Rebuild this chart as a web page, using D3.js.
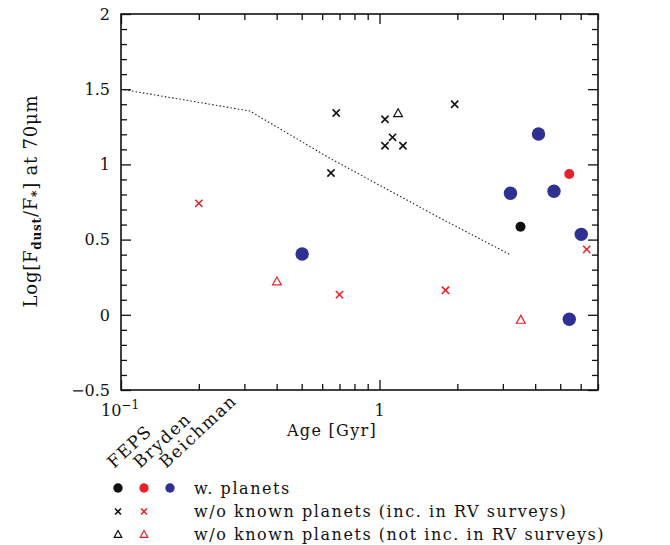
<!DOCTYPE html>
<html>
<head>
<meta charset="utf-8">
<script src="https://cdn.jsdelivr.net/npm/d3@7"></script>
<style>
  body { margin: 0; background: #fff; }
  svg { display: block; }
</style>
</head>
<body>
<div id="chart"></div>
<script>

// ---- data (age in Gyr, log flux ratio) ----

// FEPS
var fepsPlanetAge = [3.51];
var fepsPlanetF   = [0.586];
var fepsRvAge = [0.68, 0.649, 1.05, 1.05, 1.123, 1.232, 1.953];
var fepsRvF   = [1.342, 0.943, 1.30, 1.124, 1.18, 1.124, 1.40];
var fepsNoRvAge = [1.18];
var fepsNoRvF   = [1.344];

// Bryden
var brydenPlanetAge = [5.42];
var brydenPlanetF   = [0.936];
var brydenRvAge = [0.2, 0.70, 1.80, 6.33];
var brydenRvF   = [0.741, 0.134, 0.163, 0.435];
var brydenNoRvAge = [0.401, 3.52];
var brydenNoRvF   = [0.225, -0.03];

// Beichman
var beichmanPlanetAge = [0.502, 4.12, 3.21, 4.73, 6.03, 5.42];
var beichmanPlanetF   = [0.404, 1.202, 0.808, 0.821, 0.535, -0.03];

// dotted curve
var curveAge = [0.1, 0.315, 0.644, 1.72, 3.2];
var curveF   = [1.5, 1.355, 1.04, 0.642, 0.40];

// axes
var xDomain = [0.1, 7];
var yDomain = [-0.5, 2];
var yMajorTicks = [-0.5, 0, 0.5, 1, 1.5, 2];
var xMajorTicks = [0.1, 1];

var colBlack = "#111111", colRed = "#e8222b", colBlue = "#2e3192";

var surveys = ["FEPS", "Bryden", "Beichman"];
var legendColors = [colBlack, colRed, colBlue];
var legendRows = [
    "w. planets",
    "w/o known planets (inc. in RV surveys)",
    "w/o known planets (not inc. in RV surveys)"
];


var margin = {top: 14, right: 72, bottom: 155, left: 121};
var width = 670 - margin.left - margin.right;
var height = 545 - margin.top - margin.bottom;

var svg = d3.select("#chart").append("svg")
    .attr("width", 670)
    .attr("height", 545);

var g = svg.append("g")
    .attr("transform", "translate(" + margin.left + "," + margin.top + ")");

var x = d3.scaleLog().domain(xDomain).range([0, width]);
var y = d3.scaleLinear().domain(yDomain).range([height, 0]);

// minor ticks
var xMinor = [];
[0.1, 1].forEach(function(dec) {
    for (var k = 2; k <= 9; k++) {
        var v = k * dec;
        if (v <= xDomain[1] + 1e-9) xMinor.push(v);
    }
});
var yMinor = d3.range(-5, 21).map(function(d) { return d / 10; })
    .filter(function(v) { return yMajorTicks.indexOf(v) < 0; });

var major = 10, minor = 6;

function tickAxis(axisFn, scale, vals, len, tr) {
    var a = g.append("g")
        .attr("class", "axis")
        .attr("transform", tr)
        .call(axisFn(scale).tickValues(vals).tickSize(-len).tickFormat(""));
    a.select(".domain").remove();
    a.selectAll("line").attr("stroke", "#111").attr("stroke-width", 1.3);
}

tickAxis(d3.axisBottom, x, xMajorTicks, major, "translate(0," + height + ")");
tickAxis(d3.axisBottom, x, xMinor, minor, "translate(0," + height + ")");
tickAxis(d3.axisTop, x, xMajorTicks, major, "translate(0,0)");
tickAxis(d3.axisTop, x, xMinor, minor, "translate(0,0)");
tickAxis(d3.axisLeft, y, yMajorTicks, major, "translate(0,0)");
tickAxis(d3.axisLeft, y, yMinor, minor, "translate(0,0)");
tickAxis(d3.axisRight, y, yMajorTicks, major, "translate(" + width + ",0)");
tickAxis(d3.axisRight, y, yMinor, minor, "translate(" + width + ",0)");

g.append("rect")
    .attr("width", width)
    .attr("height", height)
    .attr("fill", "none")
    .attr("stroke", "#111")
    .attr("stroke-width", 1.6);

// tick labels
var font = "DejaVu Serif";
g.selectAll(".ylab")
    .data(yMajorTicks)
    .enter().append("text")
    .attr("class", "ylab")
    .attr("x", -11)
    .attr("y", function(d) { return y(d); })
    .attr("dy", "0.36em")
    .attr("text-anchor", "end")
    .style("font-family", font)
    .style("font-size", "16px")
    .attr("fill", "#111")
    .text(function(d) { return d < 0 ? "\u2212" + Math.abs(d) : d; });

var tenLab = g.append("text")
    .attr("x", x(0.1) - 20)
    .attr("y", height + 26)
    .style("font-family", font)
    .style("font-size", "16px")
    .attr("fill", "#111");
tenLab.append("tspan").text("10");
tenLab.append("tspan").attr("dy", -7).style("font-size", "12px").text("\u22121");

g.append("text")
    .attr("x", x(1))
    .attr("y", height + 26)
    .attr("text-anchor", "middle")
    .style("font-family", font)
    .style("font-size", "16px")
    .attr("fill", "#111")
    .text("1");

// axis titles
g.append("text")
    .attr("x", 211)
    .attr("y", height + 46)
    .attr("text-anchor", "middle")
    .style("font-family", font)
    .style("font-size", "16px")
    .style("letter-spacing", "1.3px")
    .attr("fill", "#111")
    .text("Age [Gyr]");

var yt = svg.append("text")
    .attr("transform", "translate(37,201) rotate(-90)")
    .attr("text-anchor", "middle")
    .style("font-family", font)
    .style("font-size", "18px")
    .style("letter-spacing", "0.8px")
    .attr("fill", "#111");
yt.append("tspan").text("Log[F");
yt.append("tspan").attr("dy", 4).style("font-size", "12px").style("font-weight", "bold").text("dust");
yt.append("tspan").attr("dy", -4).text("/F");
yt.append("tspan").attr("dy", 4).style("font-size", "12px").style("font-weight", "bold").text("*");
yt.append("tspan").attr("dy", -4).text("] at 70\u03bcm");

// dotted model curve
var line = d3.line()
    .x(function(d) { return x(d[0]); })
    .y(function(d) { return y(d[1]); });

g.append("path")
    .datum(d3.zip(curveAge, curveF))
    .attr("d", line)
    .attr("fill", "none")
    .attr("stroke", "#222")
    .attr("stroke-width", 1.1)
    .attr("stroke-dasharray", "1.5,2.2");

// marker shapes
function drawMarker(sel, shape, color, s) {
    if (shape === "circle") {
        sel.append("circle").attr("r", s).attr("fill", color);
    } else if (shape === "cross") {
        sel.append("path")
            .attr("d", "M" + (-s) + "," + (-s) + "L" + s + "," + s + "M" + (-s) + "," + s + "L" + s + "," + (-s))
            .attr("stroke", color).attr("stroke-width", 1.6).attr("fill", "none");
    } else {
        var h = s * 0.9;
        sel.append("path")
            .attr("d", "M0," + (-h) + "L" + s + "," + h + "L" + (-s) + "," + h + "Z")
            .attr("stroke", color).attr("stroke-width", 1.2).attr("fill", "none");
    }
}

function plotSet(ages, vals, shape, color, s) {
    var pts = g.append("g").selectAll("g")
        .data(d3.zip(ages, vals))
        .enter().append("g")
        .attr("transform", function(d) { return "translate(" + x(d[0]) + "," + y(d[1]) + ")"; });
    pts.each(function() { drawMarker(d3.select(this), shape, color, s); });
}

plotSet(fepsRvAge, fepsRvF, "cross", colBlack, 3.6);
plotSet(fepsNoRvAge, fepsNoRvF, "tri", colBlack, 4.4);
plotSet(brydenRvAge, brydenRvF, "cross", colRed, 3.6);
plotSet(brydenNoRvAge, brydenNoRvF, "tri", colRed, 4.4);
plotSet(fepsPlanetAge, fepsPlanetF, "circle", colBlack, 5);
plotSet(brydenPlanetAge, brydenPlanetF, "circle", colRed, 5);
plotSet(beichmanPlanetAge, beichmanPlanetF, "circle", colBlue, 6.7);

// legend
var leg = svg.append("g");
var colX = [118, 144, 170];
var rowY = [488, 511.5, 534];

surveys.forEach(function(name, i) {
    leg.append("text")
        .attr("transform", "translate(" + (colX[i] - 4) + ",469) rotate(-43)")
        .style("font-family", font)
        .style("font-size", "17px")
        .style("letter-spacing", "1.6px")
        .attr("fill", "#111")
        .text(name);
});

var shapes = ["circle", "cross", "tri"];
var sizes = [4.7, 3, 3.8];
shapes.forEach(function(sh, r) {
    legendColors.forEach(function(c, i) {
        if (sh !== "circle" && i === 2) return;
        var m = leg.append("g").attr("transform", "translate(" + colX[i] + "," + rowY[r] + ")");
        drawMarker(m, sh, c, sizes[r]);
    });
    leg.append("text")
        .attr("x", 194)
        .attr("y", rowY[r])
        .attr("dy", "0.35em")
        .style("font-family", font)
        .style("font-size", "16px")
        .style("letter-spacing", "1.55px")
        .attr("fill", "#111")
        .text(legendRows[r]);
});

</script>
</body>
</html>
